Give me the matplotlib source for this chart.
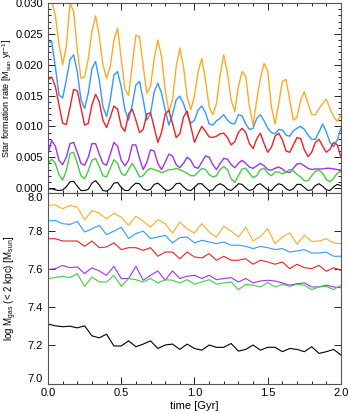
import matplotlib
matplotlib.use("Agg")
import matplotlib.pyplot as plt
import numpy as np
from matplotlib.ticker import MultipleLocator

plt.rcParams['font.family'] = ['Liberation Sans', 'DejaVu Sans']
plt.rcParams['mathtext.fontset'] = 'custom'
plt.rcParams['mathtext.rm'] = 'Liberation Sans'
plt.rcParams['mathtext.it'] = 'Liberation Sans:italic'

# star formation rate, sampled every 0.025 Gyr
t_sfr = np.linspace(0, 2, 81)
sfr_orange = [0.0315, 0.0303, 0.0280, 0.0233, 0.0200, 0.0229, 0.0300, 0.0286, 0.0224, 0.0178,
              0.0180, 0.0210, 0.0254, 0.0279, 0.0246, 0.0200, 0.0178, 0.0197, 0.0240, 0.0259,
              0.0210, 0.0160, 0.0150, 0.0200, 0.0248, 0.0245, 0.0197, 0.0154, 0.0165, 0.0210,
              0.0240, 0.0213, 0.0159, 0.0124, 0.0143, 0.0197, 0.0227, 0.0197, 0.0148, 0.0127,
              0.0150, 0.0189, 0.0210, 0.0175, 0.0132, 0.0119, 0.0137, 0.0183, 0.0216, 0.0186,
              0.0143, 0.0124, 0.0165, 0.0189, 0.0181, 0.0132, 0.0102, 0.0143, 0.0178, 0.0202,
              0.0190, 0.0132, 0.0104, 0.0137, 0.0173, 0.0176, 0.0143, 0.0110, 0.0115, 0.0143,
              0.0156, 0.0137, 0.0119, 0.0119, 0.0129, 0.0137, 0.0144, 0.0129, 0.0116, 0.0108,
              0.0119]
sfr_blue = [0.0235, 0.0238, 0.0197, 0.0151, 0.0146, 0.0175, 0.0208, 0.0216, 0.0189, 0.0143,
            0.0129, 0.0154, 0.0194, 0.0205, 0.0175, 0.0132, 0.0116, 0.0143, 0.0183, 0.0189,
            0.0164, 0.0127, 0.0110, 0.0135, 0.0167, 0.0173, 0.0143, 0.0110, 0.0121, 0.0156,
            0.0170, 0.0154, 0.0127, 0.0102, 0.0119, 0.0143, 0.0149, 0.0137, 0.0119, 0.0105,
            0.0110, 0.0127, 0.0133, 0.0122, 0.0104, 0.0102, 0.0109, 0.0113, 0.0119, 0.0110,
            0.0105, 0.0104, 0.0119, 0.0117, 0.0104, 0.0095, 0.0097, 0.0113, 0.0119, 0.0109,
            0.0097, 0.0090, 0.0088, 0.0095, 0.0094, 0.0086, 0.0084, 0.0093, 0.0097, 0.0100,
            0.0095, 0.0086, 0.0079, 0.0079, 0.0091, 0.0104, 0.0091, 0.0074, 0.0067, 0.0078,
            0.0097]
sfr_red = [0.0175, 0.0180, 0.0165, 0.0135, 0.0105, 0.0103, 0.0130, 0.0160, 0.0158, 0.0130,
           0.0102, 0.0105, 0.0135, 0.0152, 0.0140, 0.0110, 0.0098, 0.0115, 0.0133, 0.0128,
           0.0100, 0.0092, 0.0120, 0.0128, 0.0110, 0.0090, 0.0095, 0.0120, 0.0122, 0.0098,
           0.0074, 0.0090, 0.0120, 0.0126, 0.0105, 0.0082, 0.0088, 0.0115, 0.0125, 0.0100,
           0.0074, 0.0088, 0.0100, 0.0092, 0.0083, 0.0082, 0.0084, 0.0088, 0.0089, 0.0082,
           0.0070, 0.0075, 0.0090, 0.0097, 0.0090, 0.0072, 0.0064, 0.0080, 0.0089, 0.0072,
           0.0058, 0.0066, 0.0084, 0.0089, 0.0078, 0.0060, 0.0058, 0.0070, 0.0082, 0.0080,
           0.0062, 0.0051, 0.0058, 0.0074, 0.0079, 0.0068, 0.0058, 0.0063, 0.0074, 0.0070,
           0.0050]
sfr_purple = [0.0055, 0.0077, 0.0068, 0.0045, 0.0038, 0.0050, 0.0072, 0.0074, 0.0058, 0.0040,
              0.0037, 0.0050, 0.0072, 0.0072, 0.0055, 0.0040, 0.0037, 0.0055, 0.0074, 0.0068,
              0.0045, 0.0036, 0.0045, 0.0070, 0.0070, 0.0048, 0.0030, 0.0042, 0.0062, 0.0060,
              0.0040, 0.0030, 0.0042, 0.0055, 0.0052, 0.0038, 0.0033, 0.0040, 0.0050, 0.0045,
              0.0034, 0.0032, 0.0042, 0.0052, 0.0050, 0.0038, 0.0030, 0.0040, 0.0048, 0.0047,
              0.0038, 0.0033, 0.0040, 0.0045, 0.0040, 0.0034, 0.0032, 0.0036, 0.0040, 0.0036,
              0.0030, 0.0029, 0.0032, 0.0034, 0.0031, 0.0026, 0.0025, 0.0032, 0.0039, 0.0040,
              0.0036, 0.0032, 0.0030, 0.0031, 0.0031, 0.0031, 0.0032, 0.0032, 0.0031, 0.0030,
              0.0029]
sfr_green = [0.0040, 0.0047, 0.0040, 0.0022, 0.0013, 0.0028, 0.0056, 0.0058, 0.0040, 0.0020,
             0.0015, 0.0028, 0.0045, 0.0048, 0.0035, 0.0020, 0.0018, 0.0032, 0.0046, 0.0040,
             0.0024, 0.0020, 0.0030, 0.0040, 0.0030, 0.0018, 0.0020, 0.0028, 0.0032, 0.0030,
             0.0028, 0.0025, 0.0027, 0.0030, 0.0030, 0.0032, 0.0030, 0.0027, 0.0024, 0.0020,
             0.0020, 0.0026, 0.0032, 0.0030, 0.0022, 0.0018, 0.0020, 0.0030, 0.0035, 0.0030,
             0.0015, 0.0009, 0.0020, 0.0031, 0.0032, 0.0024, 0.0017, 0.0020, 0.0030, 0.0032,
             0.0024, 0.0020, 0.0026, 0.0026, 0.0023, 0.0026, 0.0030, 0.0028, 0.0022, 0.0018,
             0.0012, 0.0012, 0.0020, 0.0027, 0.0029, 0.0024, 0.0014, 0.0010, 0.0016, 0.0024,
             0.0027]
sfr_black = [-0.0002, -0.0001, -0.0003, -0.0004, -0.0003, 0.0002, 0.0010, 0.0011, 0.0003, -0.0004,
             -0.0004, -0.0002, 0.0008, 0.0012, 0.0005, -0.0004, -0.0005, -0.0001, 0.0008, 0.0009,
             0.0001, -0.0004, -0.0004, 0.0003, 0.0008, 0.0007, -0.0001, -0.0004, -0.0002, 0.0006,
             0.0008, 0.0003, -0.0003, -0.0004, 0.0000, 0.0007, 0.0008, 0.0002, -0.0003, -0.0004,
             0.0001, 0.0007, 0.0007, 0.0001, -0.0004, -0.0003, 0.0004, 0.0007, 0.0004, -0.0002,
             -0.0004, 0.0001, 0.0007, 0.0006, 0.0000, -0.0004, -0.0002, 0.0005, 0.0007, 0.0002,
             -0.0003, -0.0004, 0.0003, 0.0007, 0.0005, -0.0001, -0.0004, -0.0001, 0.0006, 0.0006,
             0.0001, -0.0004, -0.0003, 0.0004, 0.0007, 0.0003, -0.0003, -0.0004, 0.0002, 0.0006,
             0.0004]

# gas mass inside 2 kpc, sampled every 0.05 Gyr
t_gas = np.linspace(0, 2, 41)
gas_orange = [7.935, 7.938, 7.917, 7.935, 7.926, 7.860, 7.908, 7.894, 7.865, 7.894, 7.873,
              7.830, 7.878, 7.852, 7.821, 7.860, 7.839, 7.790, 7.847, 7.812, 7.790,
              7.839, 7.795, 7.769, 7.825, 7.800, 7.769, 7.821, 7.748, 7.772, 7.812,
              7.734, 7.769, 7.790, 7.731, 7.778, 7.746, 7.748, 7.760, 7.738, 7.734]
gas_blue = [7.853, 7.856, 7.839, 7.835, 7.851, 7.795, 7.812, 7.830, 7.781, 7.800, 7.820,
            7.761, 7.787, 7.800, 7.761, 7.769, 7.778, 7.738, 7.766, 7.769, 7.738,
            7.752, 7.743, 7.734, 7.743, 7.726, 7.726, 7.720, 7.708, 7.720, 7.713,
            7.703, 7.708, 7.690, 7.696, 7.703, 7.685, 7.685, 7.690, 7.668, 7.668]
gas_red = [7.760, 7.760, 7.748, 7.748, 7.748, 7.720, 7.748, 7.713, 7.717, 7.738, 7.703,
           7.713, 7.713, 7.699, 7.713, 7.668, 7.690, 7.690, 7.655, 7.690, 7.664,
           7.659, 7.682, 7.647, 7.668, 7.647, 7.647, 7.655, 7.626, 7.647, 7.638,
           7.626, 7.638, 7.603, 7.626, 7.608, 7.603, 7.620, 7.589, 7.608, 7.594]
gas_purple = [7.598, 7.603, 7.620, 7.608, 7.612, 7.577, 7.607, 7.591, 7.568, 7.615, 7.551,
              7.551, 7.615, 7.542, 7.568, 7.591, 7.542, 7.591, 7.551, 7.563, 7.568,
              7.551, 7.568, 7.545, 7.551, 7.556, 7.533, 7.551, 7.528, 7.538, 7.542,
              7.538, 7.528, 7.516, 7.524, 7.528, 7.507, 7.507, 7.516, 7.507, 7.503]
gas_green = [7.551, 7.556, 7.563, 7.556, 7.577, 7.510, 7.559, 7.533, 7.533, 7.568, 7.510,
             7.551, 7.545, 7.533, 7.551, 7.528, 7.545, 7.542, 7.528, 7.545, 7.521,
             7.533, 7.545, 7.521, 7.528, 7.533, 7.493, 7.521, 7.516, 7.507, 7.530,
             7.507, 7.521, 7.510, 7.521, 7.516, 7.493, 7.507, 7.510, 7.493, 7.516]
gas_black = [7.312, 7.303, 7.298, 7.301, 7.292, 7.303, 7.250, 7.240, 7.259, 7.197, 7.197,
             7.224, 7.193, 7.207, 7.224, 7.184, 7.202, 7.207, 7.179, 7.207, 7.184,
             7.175, 7.202, 7.190, 7.190, 7.210, 7.170, 7.179, 7.202, 7.175, 7.190,
             7.190, 7.167, 7.184, 7.179, 7.167, 7.193, 7.158, 7.167, 7.179, 7.149]

colors = ['#ffaa22', '#3399ff', '#ee2222', '#a033ee', '#44cc44', '#000000']
sfr_all = [sfr_orange, sfr_blue, sfr_red, sfr_purple, sfr_green, sfr_black]
gas_all = [gas_orange, gas_blue, gas_red, gas_purple, gas_green, gas_black]

fig = plt.figure(figsize=(3.49, 4.13), dpi=100)
ax1 = fig.add_axes([0.1375, 0.5327, 0.8395, 0.46])
ax2 = fig.add_axes([0.1375, 0.0714, 0.8395, 0.4613], sharex=ax1)

for y, c in zip(sfr_all, colors):
    ax1.plot(t_sfr, y, color=c, lw=0.8 if c == '#000000' else 1.0)
for y, c in zip(gas_all, colors):
    ax2.plot(t_gas, y, color=c, lw=0.8)

ax1.set_xlim(0, 2)
ax1.set_ylim(-0.0008, 0.0300)
ax2.set_ylim(7.0, 8.0)

ax1.yaxis.set_major_locator(MultipleLocator(0.005))
ax1.yaxis.set_minor_locator(MultipleLocator(0.001))
ax1.xaxis.set_major_locator(MultipleLocator(0.5))
ax1.xaxis.set_minor_locator(MultipleLocator(0.1))
ax2.yaxis.set_major_locator(MultipleLocator(0.2))
ax1.yaxis.set_major_formatter(matplotlib.ticker.FormatStrFormatter('%.3f'))
ax2.yaxis.set_major_formatter(matplotlib.ticker.FormatStrFormatter('%.1f'))
ax2.xaxis.set_major_formatter(matplotlib.ticker.FormatStrFormatter('%.1f'))

for ax in (ax1, ax2):
    ax.tick_params(which='both', direction='in', top=True, right=True, labelsize=8, width=0.6)
    ax.tick_params(which='major', length=5)
    ax.tick_params(which='minor', length=2.5)
    for s in ax.spines.values():
        s.set_linewidth(0.8)
        s.set_color('#555555')
ax1.tick_params(labelbottom=False)

fig.canvas.draw()
labs = ax2.get_yticklabels()
for lab in labs:
    if lab.get_text() == '8.0':
        lab.set_va('top')
    elif lab.get_text() == '7.0':
        lab.set_va('bottom')

ax1.set_ylabel(r'Star formation rate [M$_{\rm sun}$ yr$^{-1}$]', fontsize=6.5)
ax2.set_ylabel(r'log M$_{\rm gas}$ (< 2 kpc) [M$_{\rm sun}$]', fontsize=7)
ax1.yaxis.set_label_coords(-0.115, 0.5)
ax2.yaxis.set_label_coords(-0.10, 0.5)
ax2.set_xlabel('time [Gyr]', fontsize=8, labelpad=2)

fig.savefig('out.png', dpi=100)
